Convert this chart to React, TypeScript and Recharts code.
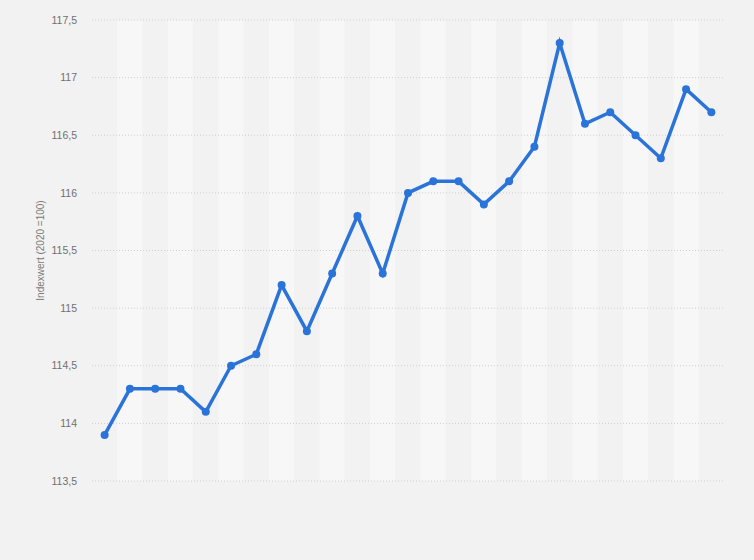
import React from 'react';
import { ComposedChart, Line, Bar, XAxis, YAxis, ReferenceLine, Label } from 'recharts';

// Kategorien (keine Beschriftung im Original sichtbar)
const periods = [
  '1', '2', '3', '4', '5', '6', '7', '8', '9', '10', '11', '12', '13',
  '14', '15', '16', '17', '18', '19', '20', '21', '22', '23', '24', '25',
];

const indexValues = [
  113.9, 114.3, 114.3, 114.3, 114.1, 114.5, 114.6, 115.2, 114.8, 115.3, 115.8, 115.3, 116.0,
  116.1, 116.1, 115.9, 116.1, 116.4, 117.3, 116.6, 116.7, 116.5, 116.3, 116.9, 116.7,
];

const yTicks = [113.5, 114, 114.5, 115, 115.5, 116, 116.5, 117, 117.5];
const yDomain = [113.5, 117.5];

const data = periods.map((period, i) => ({
  period,
  value: indexValues[i],
  // helle Streifen hinter jeder zweiten Kategorie
  stripe: i % 2 === 1 ? yDomain[1] : null,
}));

const formatTick = (v: number) => String(v).replace('.', ',');

const font = 'Liberation Sans, Arial, sans-serif';

const App: React.FC = () => {
  return (
    <div style={{ position: 'absolute', left: 0, top: 0, width: 754, height: 560, background: '#f2f2f2' }}>
      <ComposedChart
        width={754}
        height={560}
        data={data}
        barCategoryGap={0}
        margin={{ top: 20, right: 30, left: 0, bottom: 79 }}
      >
        <XAxis dataKey="period" hide />
        <YAxis
          width={92}
          domain={yDomain}
          ticks={yTicks}
          tickFormatter={formatTick}
          axisLine={false}
          tickLine={false}
          tickSize={0}
          tickMargin={15}
          tick={{ fontSize: 10.5, fill: '#707070', fontFamily: font }}
        >
          <Label
            value="Indexwert (2020 =100)"
            angle={-90}
            position="center"
            dx={-6}
            style={{ fontSize: 10, fill: '#7a7a7a', fontFamily: font, textAnchor: 'middle' }}
          />
        </YAxis>
        <Bar dataKey="stripe" fill="#f7f7f7" isAnimationActive={false} />
        {yTicks.map((t) => (
          <ReferenceLine key={t} y={t} stroke="#cfcfcf" strokeDasharray="1 2" />
        ))}
        <Line
          type="linear"
          dataKey="value"
          stroke="#2a74d9"
          strokeWidth={3.5}
          dot={{ r: 4, fill: '#2a74d9', stroke: '#2a74d9', strokeWidth: 0 }}
          isAnimationActive={false}
        />
      </ComposedChart>
    </div>
  );
};

export default App;
